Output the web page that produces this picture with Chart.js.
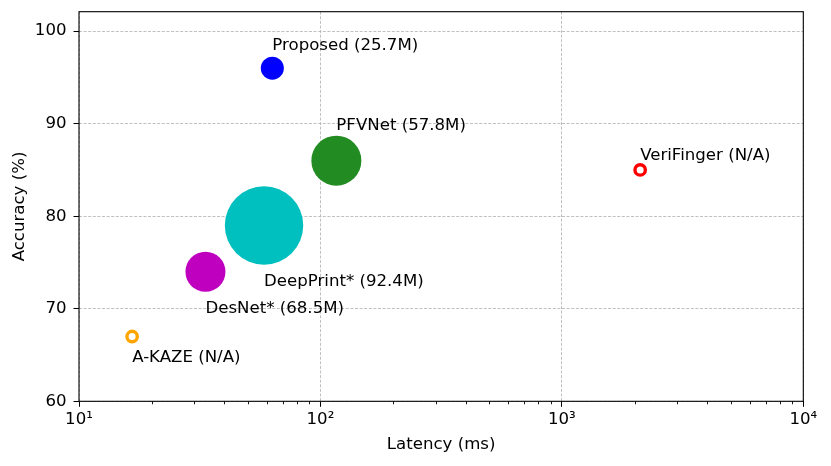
<!DOCTYPE html>
<html>
<head>
<meta charset="utf-8">
<script src="https://cdn.jsdelivr.net/npm/chart.js@4.4.0/dist/chart.umd.min.js"></script>
<style>
  html, body { margin: 0; padding: 0; background: #ffffff; }
  #wrap { width: 831px; height: 466px; }
</style>
</head>
<body>
<div id="wrap"><canvas id="chart" width="831" height="466"></canvas></div>
<script>
// values
const methods = ['Proposed', 'PFVNet', 'VeriFinger', 'DeepPrint*', 'DesNet*', 'A-KAZE'];
const latencyMs = [63.2, 116.4, 2110, 58.4, 33.4, 16.6];
const accuracy = [96, 86, 85, 79, 74, 67];
const paramCount = ['25.7M', '57.8M', 'N/A', '92.4M', '68.5M', 'N/A'];

const xTicks = [10, 100, 1000, 10000];
const xTickLabels = ['10¹', '10²', '10³', '10⁴'];
const yTicks = [60, 70, 80, 90, 100];

// look of each marker
const fillColors = ['#0000ff', '#228b22', 'rgba(0,0,0,0)', '#00bfbf', '#bf00bf', 'rgba(0,0,0,0)'];
const edgeColors = ['#0000ff', '#228b22', '#ff0000', '#00bfbf', '#bf00bf', '#ffa500'];
const radii = [11.5, 25, 5.2, 39.2, 20, 5.2];
const edgeWidths = [0, 0, 3.4, 0, 0, 3.4];
const labelDy = [-18.5, -31, -10, 60.5, 41.7, 25.7];

const FONT = 'DejaVu Sans';
const FS = 16.6;

const pointLabels = {
  id: 'pointLabels',
  afterDatasetsDraw(chart) {
    const ctx = chart.ctx;
    const xs = chart.scales.x, ys = chart.scales.y;
    ctx.save();
    ctx.font = FS + 'px "' + FONT + '"';
    ctx.fillStyle = '#000000';
    ctx.textAlign = 'left';
    ctx.textBaseline = 'alphabetic';
    methods.forEach((m, i) => {
      const px = xs.getPixelForValue(latencyMs[i]);
      const py = ys.getPixelForValue(accuracy[i]);
      ctx.fillText(m + ' (' + paramCount[i] + ')', px, py + labelDy[i]);
    });
    ctx.restore();
  }
};

const frame = {
  id: 'frame',
  afterDraw(chart) {
    const ctx = chart.ctx;
    const a = chart.chartArea;
    const xs = chart.scales.x;
    ctx.save();
    ctx.strokeStyle = '#000000';
    // minor log ticks
    ctx.lineWidth = 0.9;
    ctx.beginPath();
    for (let d = 10; d < 10000; d *= 10) {
      for (let k = 2; k <= 9; k++) {
        const px = Math.round(xs.getPixelForValue(d * k)) + 0.5;
        ctx.moveTo(px, a.bottom);
        ctx.lineTo(px, a.bottom + 3);
      }
    }
    ctx.stroke();
    ctx.lineWidth = 1.1;
    ctx.strokeRect(a.left, a.top, a.right - a.left, a.bottom - a.top);
    ctx.restore();
  }
};

new Chart(document.getElementById('chart'), {
  type: 'bubble',
  plugins: [pointLabels, frame],
  data: {
    datasets: [{
      data: methods.map((m, i) => ({ x: latencyMs[i], y: accuracy[i], r: radii[i] })),
      backgroundColor: fillColors,
      borderColor: edgeColors,
      borderWidth: edgeWidths,
      hoverRadius: 0,
    }],
  },
  options: {
    responsive: false,
    animation: false,
    events: [],
    layout: { autoPadding: false, padding: { top: 11.7, right: 27.7, left: 0, bottom: 0 } },
    plugins: {
      legend: { display: false },
      tooltip: { enabled: false },
    },
    scales: {
      x: {
        type: 'logarithmic',
        min: 10,
        max: 10000,
        afterBuildTicks: (s) => { s.ticks = xTicks.map(v => ({ value: v, major: true })); },
        afterFit: (s) => { s.height = 64.7; s.paddingLeft = 0; s.paddingRight = 0; },
        grid: { color: '#b0b0b0', lineWidth: 0.8, tickLength: 5.5, tickColor: '#000000', tickWidth: 1 },
        border: { display: false, dash: [3, 1.6] },
        ticks: {
          autoSkip: false,
          maxRotation: 0,
          padding: 3,
          color: '#000000',
          font: { family: FONT, size: FS },
          callback: (v) => xTickLabels[xTicks.indexOf(v)] || '',
        },
        title: {
          display: true,
          text: 'Latency (ms)',
          color: '#000000',
          font: { family: FONT, size: FS },
          padding: { top: 0, bottom: 11 },
        },
      },
      y: {
        min: 60,
        max: 102.1,
        afterBuildTicks: (s) => { s.ticks = yTicks.map(v => ({ value: v })); },
        afterFit: (s) => { s.width = 79; s.paddingTop = 0; s.paddingBottom = 0; },
        grid: { color: '#b0b0b0', lineWidth: 0.8, tickLength: 5.5, tickColor: '#000000', tickWidth: 1 },
        border: { display: false, dash: [3, 1.6] },
        ticks: {
          padding: 7,
          color: '#000000',
          font: { family: FONT, size: FS },
        },
        title: {
          display: true,
          text: 'Accuracy (%)',
          color: '#000000',
          font: { family: FONT, size: FS },
          padding: { top: 9.8, bottom: 0 },
        },
      },
    },
  },
});
</script>
</body>
</html>
